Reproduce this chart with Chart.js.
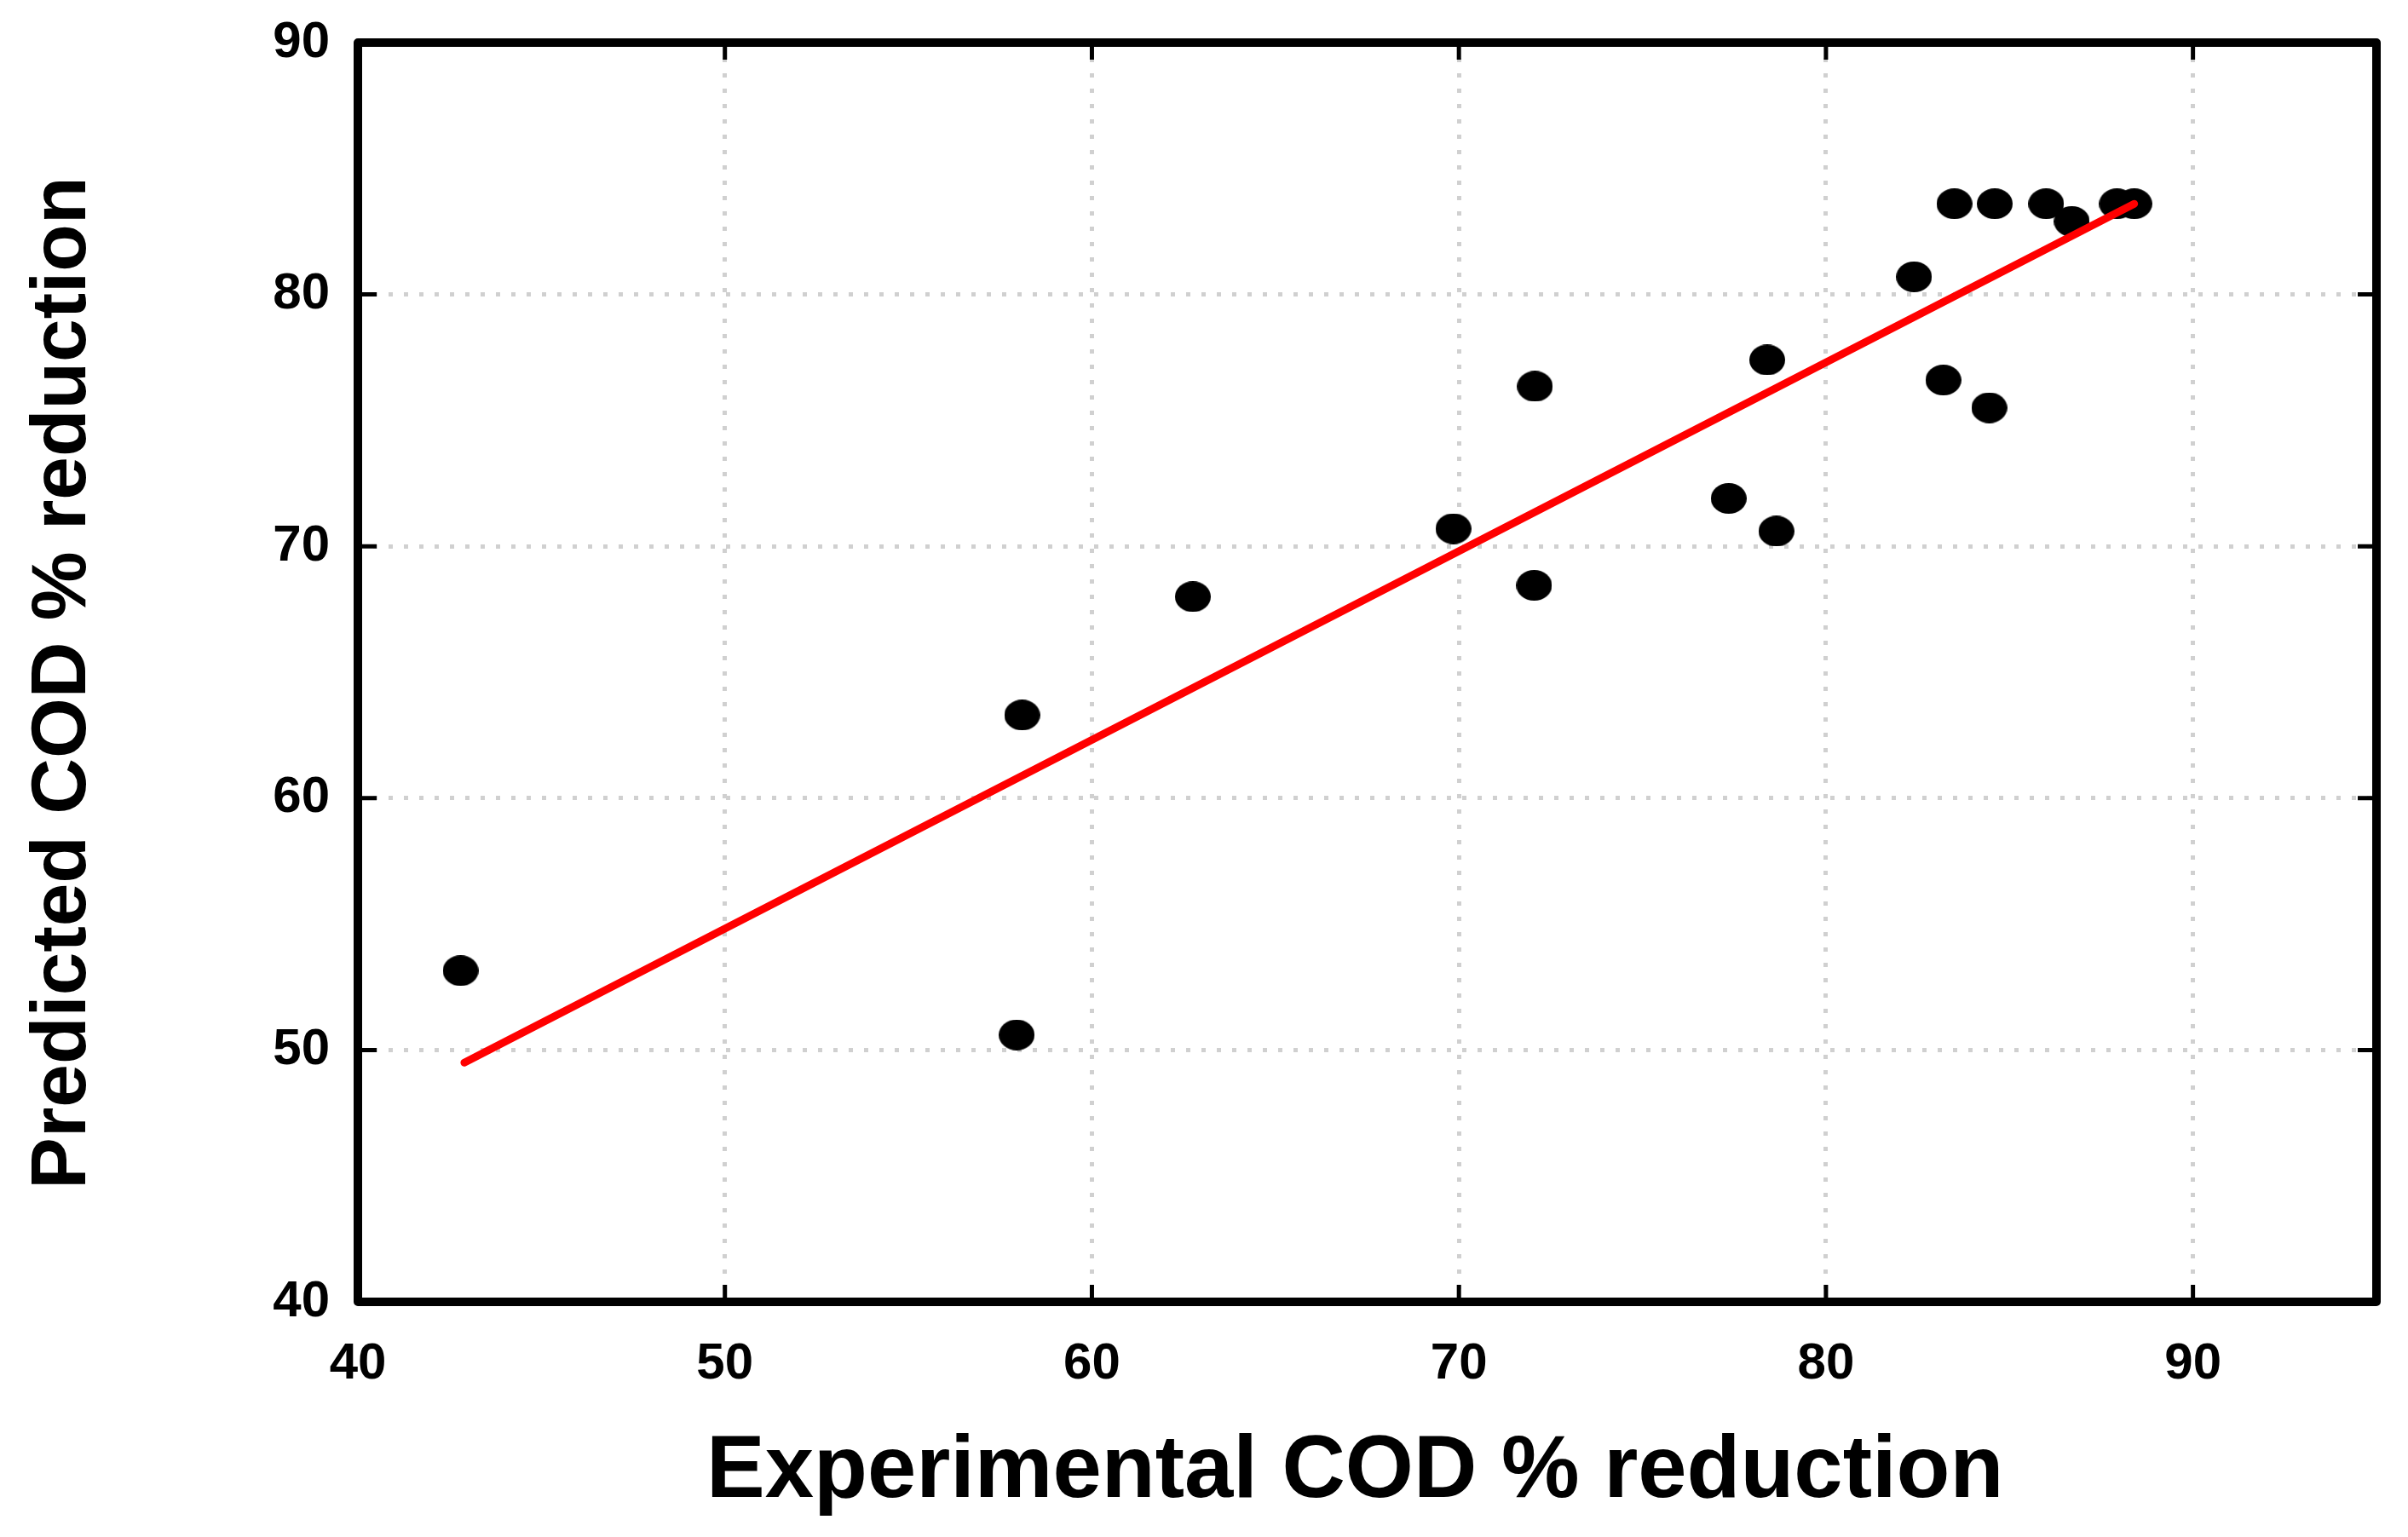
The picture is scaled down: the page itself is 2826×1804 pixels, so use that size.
<!DOCTYPE html>
<html>
<head>
<meta charset="utf-8">
<script src="https://cdn.jsdelivr.net/npm/chart.js@4/dist/chart.umd.min.js"></script>
<style>
	body { margin: 0; background: #fff; }
	#cod-chart { display: block; }
</style>
</head>
<body>
<canvas id="cod-chart" width="2826" height="1804" style="width:2826px;height:1804px"></canvas>
<script>

var expX = [42.8, 57.95, 58.1, 62.75, 69.85, 72.05, 72.07, 77.35, 78.4, 78.65, 82.4, 83.2, 84.45, 83.5, 84.6, 86.0, 86.7, 87.93, 88.4];
var predY = [53.15, 50.6, 63.3, 68.0, 70.7, 68.45, 76.35, 71.9, 77.4, 70.6, 80.7, 76.6, 75.5, 83.6, 83.6, 83.6, 82.9, 83.6, 83.6];

var fitX = [42.9, 88.4];
var fitY = [49.5, 83.6];

var xTicks = [40, 50, 60, 70, 80, 90];
var yTicks = [40, 50, 60, 70, 80, 90];

var fontFamily = "'Liberation Sans', Arial, sans-serif";

function toPoints(xs, ys){
	var pts = [];
	for(var i = 0; i < xs.length; i++){
		pts.push({x: xs[i], y: ys[i]});
	}
	return pts;
}

function makeDot(w, h){
	var c = document.createElement("canvas");
	c.width = w;
	c.height = h;
	var cx = c.getContext("2d");
	cx.fillStyle = "#000";
	cx.beginPath();
	cx.ellipse(w / 2, h / 2, w / 2, h / 2, 0, 0, Math.PI * 2);
	cx.fill();
	return c;
}

// frame round the plot and the small inward ticks on all four sides
var framePlugin = {
	id: "frame",
	afterDatasetsDraw: function(chart){
		var ctx = chart.ctx;
		var a = chart.chartArea;
		var xs = chart.scales.x, ys = chart.scales.y;
		ctx.save();
		ctx.strokeStyle = "#000";
		ctx.lineWidth = 5;
		ctx.beginPath();
		for(var i = 0; i < xTicks.length; i++){
			var px = xs.getPixelForValue(xTicks[i]);
			if(px <= a.left + 2) continue;
			ctx.moveTo(px, a.bottom); ctx.lineTo(px, a.bottom - 20);
			ctx.moveTo(px, a.top); ctx.lineTo(px, a.top + 20);
		}
		for(var j = 0; j < yTicks.length; j++){
			var py = ys.getPixelForValue(yTicks[j]);
			if(py <= a.top + 2 || py >= a.bottom - 2) continue;
			ctx.moveTo(a.left, py); ctx.lineTo(a.left + 22, py);
			ctx.moveTo(a.right, py); ctx.lineTo(a.right - 22, py);
		}
		ctx.stroke();
		ctx.lineWidth = 10;
		ctx.lineJoin = "round";
		ctx.strokeRect(a.left, a.top, a.right - a.left, a.bottom - a.top);
		ctx.restore();
	}
};

function createChart(){
	new Chart(document.getElementById("cod-chart"), {
		data: {
			datasets: [{
				type: "line",
				data: toPoints(fitX, fitY),
				borderColor: "#ff0000",
				borderWidth: 9,
				borderCapStyle: "round",
				pointRadius: 0,
				fill: false,
				order: 0
			}, {
				type: "scatter",
				data: toPoints(expX, predY),
				pointStyle: makeDot(42, 36),
				backgroundColor: "#000",
				order: 1
			}]
		},
		options: {
			responsive: false,
			devicePixelRatio: 1,
			animation: false,
			layout: { padding: { left: 0, right: 37, top: 50, bottom: 0 } },
			plugins: { legend: { display: false }, tooltip: { enabled: false } },
			scales: {
				x: {
					type: "linear",
					min: 40,
					max: 95,
					afterFit: function(scale){
						scale.height = 276;
						scale.paddingLeft = 0;
						scale.paddingRight = 0;
					},
					ticks: {
						stepSize: 10,
						includeBounds: false,
						padding: 37,
						color: "#000",
						font: { family: fontFamily, size: 60, weight: "bold" }
					},
					grid: { color: "#d0d0d0", lineWidth: 5, drawTicks: false },
					border: { display: false, dash: [5, 13] },
					title: {
						display: true,
						text: "Experimental COD % reduction ",
						color: "#000",
						padding: { top: 0, bottom: 14 },
						font: { family: fontFamily, size: 103, weight: "bold" }
					}
				},
				y: {
					type: "linear",
					min: 40,
					max: 90,
					afterFit: function(scale){
						scale.width = 420;
						scale.paddingTop = 0;
						scale.paddingBottom = 0;
					},
					ticks: {
						stepSize: 10,
						padding: 33,
						color: "#000",
						font: { family: fontFamily, size: 60, weight: "bold" }
					},
					grid: { color: "#d0d0d0", lineWidth: 5, drawTicks: false },
					border: { display: false, dash: [5, 13] },
					title: {
						display: true,
						text: "Predicted COD % reduction ",
						color: "#000",
						padding: { top: 20, bottom: 0 },
						font: { family: fontFamily, size: 91, weight: "bold" }
					}
				}
			}
		},
		plugins: [framePlugin]
	});
}

createChart();

</script>
</body>
</html>
